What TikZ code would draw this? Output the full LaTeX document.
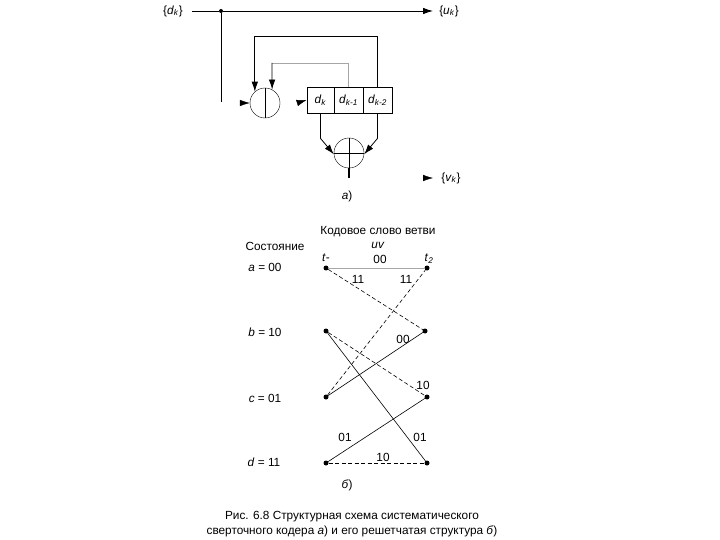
\documentclass[tikz,border=0pt]{standalone}
\usepackage{fontspec}
\setmainfont{Liberation Sans}
\usetikzlibrary{arrows.meta, positioning}

\newcommand{\subi}[2]{\textit{#1}\textsubscript{\textit{#2}}}

\begin{document}
\begin{tikzpicture}[
        x = 1pt, y = -1pt,
        on grid,
        >= {Latex[length = 10pt, width = 6.5pt]},
        font = \fontsize{11.8}{13}\selectfont,
        label/.style = {inner sep = 0pt},
        cell/.style = {draw, thick, minimum height = 26pt, inner sep = 0pt},
        adder/.style = {draw, circle, minimum size = 30pt, inner sep = 0pt},
        junction/.style = {circle, fill, minimum size = 4pt, inner sep = 0pt},
        knot/.style = {circle, fill, minimum size = 5pt, inner sep = 0pt},
        wire/.style = {line width = 0.8pt},
        branch/.style = {line width = 0.6pt},
        zero/.style = {branch, dashed, dash pattern = on 4pt off 2.5pt}
    ]
    \useasboundingbox (0,0) rectangle (720,540);

    % encoder
    \node[label] (dk) at (173,11) {\{\subi{d}{k}\}};
    \node[junction] (fork) at (221,11) {};
    \node[label] (uk) at (449,11) {\{\subi{u}{k}\}};
    \node[label] (vk) at (451,178) {\{\subi{v}{k}\}};

    \node[adder] (sum1) at (265,103) {};
    \node[cell, minimum width = 27pt] (reg1) at (320.5,100) {\subi{d}{k}};
    \node[cell, minimum width = 29pt] (reg2) [right = 28pt of reg1] {\subi{d}{k-1}};
    \node[cell, minimum width = 29pt] (reg3) [right = 29pt of reg2] {\subi{d}{k-2}};
    \node[adder] (sum2) at (349,153) {};

    \coordinate (dstart) at (192,11);
    \coordinate (dend) at (221,102);
    \coordinate (uend) at (433,11);
    \coordinate (in1) at (241,103);
    \coordinate (in2) at (297,103);
    \coordinate (outend) at (349,178);
    \coordinate (vkin) at (423,178);
    \coordinate (vkend) at (433,178);
    \coordinate (inner) at (272,63);

    \node[label] at (347,196) {\textit{а})};

    \draw[wire] (dstart) -- (fork);
    \draw[wire, ->] (fork) -- (uend);
    \draw[wire] (fork) -- (dend);
    \draw[wire] (sum1.north) -- (sum1.south);
    \draw[wire] (sum2.north) -- (sum2.south);
    \draw[wire] (sum2.west) -- (sum2.east);

    \draw[->] (in1) -- (sum1.west);
    \draw[->] (in2) -- (reg1.west);
    \draw[->] (vkin) -- (vkend);

    \draw[wire, ->] (reg3.north) -- ++(0,-50) -| (sum1.132);
    \draw[gray!70, line width = 0.6pt] (reg2.north) |- (inner);
    \draw[wire, ->] (inner) -- (sum1.62);

    \draw[wire, ->] (reg1.south) -- ++(0,25) -- (sum2.185);
    \draw[wire, ->] (reg3.south) -- ++(0,25) -- (sum2.355);
    \draw[line width = 1.5pt] (sum2.south) -- (outend);

    % trellis
    \node[knot] (al) at (326,268) {};
    \node[knot] (bl) [below = 63pt of al] {};
    \node[knot] (cl) [below = 66pt of bl] {};
    \node[knot] (dl) [below = 66pt of cl] {};
    \node[knot] (ar) [right = 101pt of al] {};
    \node[knot] (br) at (425,331) {};
    \node[knot] (cr) [right = 101pt of cl] {};
    \node[knot] (dr) [right = 101pt of dl] {};

    \draw[branch, gray!70] (al) -- (ar);
    \draw[zero] (al) -- (br);
    \draw[zero] (bl) -- (cr);
    \draw[branch] (bl) -- (dr);
    \draw[zero] (cl) -- (ar);
    \draw[branch] (cl) -- (br);
    \draw[branch] (dl) -- (cr);
    \draw[zero] (dl) -- (dr);

    \node[label] at (378,232) {Кодовое слово ветви};
    \node[label] at (378,245) {\textit{uv}};
    \node[label] at (275,246) {Состояние};
    \node[label] at (326,258) {\textit{t}-};
    \node[label] at (380,259) {00};
    \node[label] at (429,259) {\subi{t}{2}};

    \node[label] at (265,267) {\textit{a} = 00};
    \node[label] at (265,332) {\textit{b} = 10};
    \node[label] at (265,398) {\textit{c} = 01};
    \node[label] at (264,462) {\textit{d} = 11};

    \node[label] at (358,279) {11};
    \node[label] at (406,279) {11};
    \node[label] at (403,339) {00};
    \node[label] at (423,385) {10};
    \node[label] at (345,437) {01};
    \node[label] at (420,437) {01};
    \node[label] at (383,457) {10};
    \node[label] at (347,485) {\textit{б})};

    \node[label] at (352,517) {Рис. 6.8 Структурная схема систематического};
    \node[label] at (352,531) {сверточного кодера \textit{а}) и его решетчатая структура \textit{б})};

\end{tikzpicture}
\end{document}
